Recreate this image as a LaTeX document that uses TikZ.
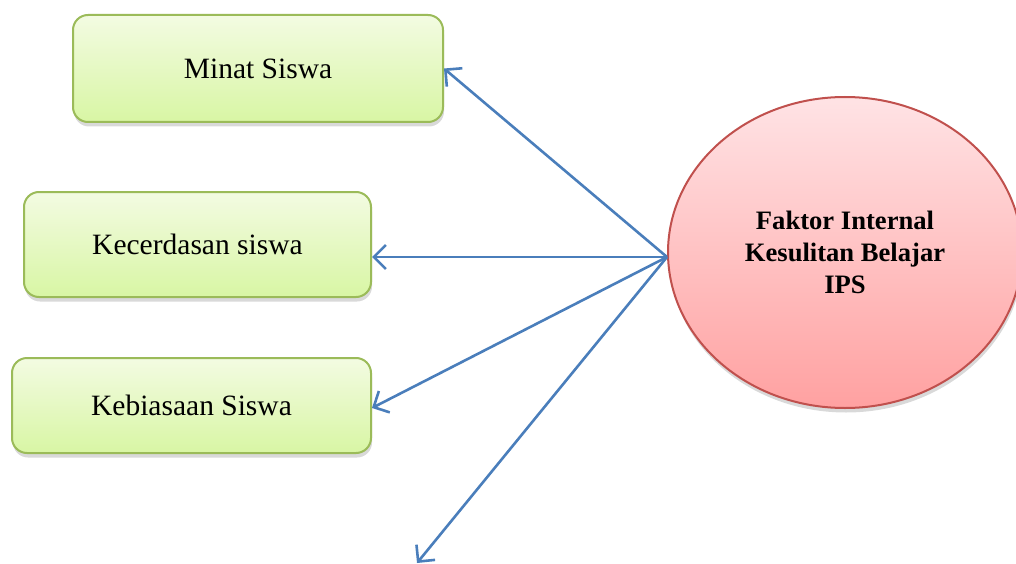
\documentclass[tikz,border=0pt]{standalone}
\usepackage{fontspec}
\setmainfont{Liberation Serif}
\usetikzlibrary{shapes.geometric,shadows,arrows.meta}
\definecolor{gtop}{HTML}{F3FBE2}
\definecolor{gbot}{HTML}{D8F6A4}
\definecolor{gline}{HTML}{9BBB59}
\definecolor{rtop}{HTML}{FFE3E5}
\definecolor{rbot}{HTML}{FFA1A1}
\definecolor{rline}{HTML}{C0504D}
\definecolor{arr}{HTML}{4A7EBB}
\tikzset{
  greenbox/.style={draw=gline, line width=2pt, rounded corners=15pt,
    top color=gtop, bottom color=gbot, inner sep=0pt,
    font=\fontsize{29.5}{34}\selectfont,
    drop shadow={shadow xshift=1pt, shadow yshift=-4.5pt, opacity=0.3}},
  redell/.style={ellipse, draw=rline, line width=2pt,
    top color=rtop, bottom color=rbot, inner sep=0pt,
    minimum width=354pt, minimum height=311pt, align=center,
    font=\fontsize{26.6}{32}\selectfont\bfseries,
    drop shadow={shadow xshift=1pt, shadow yshift=-4.5pt, opacity=0.3}},
  conn/.style={draw=arr, line width=2.6pt,
    -{Straight Barb[length=12pt,width=24pt,line width=2.6pt]}}
}
\begin{document}
\begin{tikzpicture}[x=1pt,y=-1pt]
\useasboundingbox (0,0) rectangle (1016,564);
\node[greenbox, minimum width=370pt, minimum height=107pt] (B1) at (258,68.5) {Minat Siswa};
\node[greenbox, minimum width=347pt, minimum height=105pt] (B2) at (197.5,244.5) {Kecerdasan siswa};
\node[greenbox, minimum width=359pt, minimum height=95pt] (B3) at (191.5,405.5) {Kebiasaan Siswa};
\node[redell] (E) at (845,252.5) {Faktor Internal\\Kesulitan Belajar\\IPS};
\coordinate (src) at ([yshift=-4.5pt]E.west);
\coordinate (free) at (417,563);
\draw[conn] (src) -- (B1.east);
\draw[conn] (src) -- (B2.east |- src);
\draw[conn] (src) -- ([yshift=-2.5pt]B3.east);
\draw[conn] (src) -- (free);
\end{tikzpicture}
\end{document}
